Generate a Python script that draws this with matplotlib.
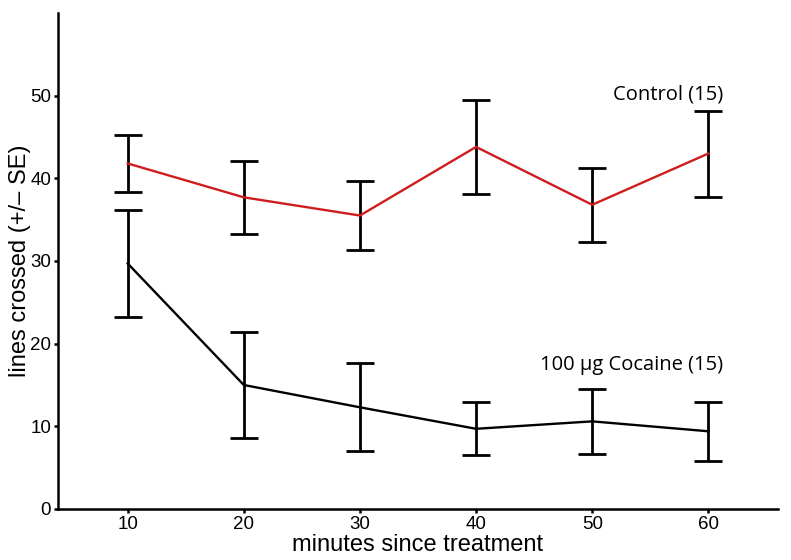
import matplotlib.pyplot as plt
import numpy as np

minutes = [10, 20, 30, 40, 50, 60]
control_mean = [41.8, 37.7, 35.5, 43.8, 36.8, 43.0]
control_se = [3.5, 4.4, 4.2, 5.7, 4.5, 5.2]
cocaine_mean = [29.7, 15.0, 12.3, 9.7, 10.6, 9.4]
cocaine_se = [6.5, 6.4, 5.3, 3.2, 3.9, 3.6]

plt.rcParams['font.family'] = ['Liberation Sans', 'DejaVu Sans']

fig = plt.figure(figsize=(7.91, 5.6), dpi=100)
ax = fig.add_axes([0.0733, 0.0911, 0.9103, 0.8857])

ax.errorbar(minutes, control_mean, yerr=control_se, color='#d01c1c', lw=1.7,
            ecolor='black', elinewidth=2.0, capsize=10.4, capthick=2.0, zorder=2)
ax.errorbar(minutes, cocaine_mean, yerr=cocaine_se, color='black', lw=1.7,
            ecolor='black', elinewidth=2.0, capsize=10.4, capthick=2.0, zorder=2)

ax.text(61.3, 50.2, 'Control (15)', ha='right', va='center', fontsize=14.5,
        family=['Open Sans', 'DejaVu Sans'])
ax.text(61.3, 17.4, '100 µg Cocaine (15)', ha='right', va='center', fontsize=14.5,
        family=['Open Sans', 'DejaVu Sans'])

ax.set_xlim(4.0, 66.0)
ax.set_ylim(0, 60)
ax.set_xticks(minutes)
ax.set_yticks([0, 10, 20, 30, 40, 50])
ax.tick_params(labelsize=13.5, width=1.8, length=3, pad=2)
for s in ['top', 'right']:
    ax.spines[s].set_visible(False)
for s in ['left', 'bottom']:
    ax.spines[s].set_linewidth(1.8)

ax.set_xlabel('minutes since treatment', fontsize=17)
ax.xaxis.set_label_coords(0.5, -0.05)
ax.set_ylabel('lines crossed (+/– SE)', fontsize=17)
ax.yaxis.set_label_coords(-0.038, 0.5)

fig.savefig('out.png', dpi=100)
